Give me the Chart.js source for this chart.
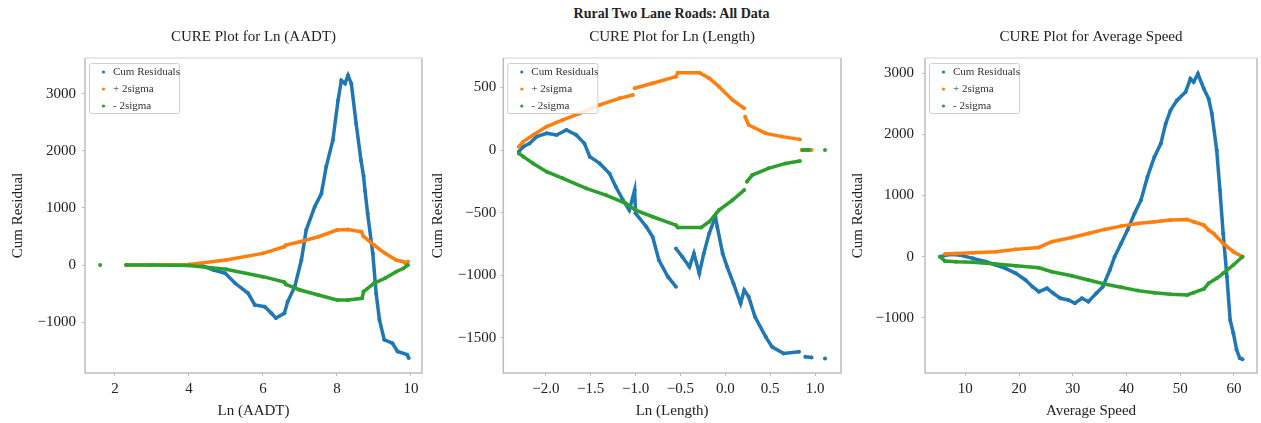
<!DOCTYPE html>
<html>
<head>
<meta charset="utf-8">
<script src="https://cdn.jsdelivr.net/npm/chart.js@4/dist/chart.umd.min.js"></script>
<style>
  body { margin: 0; background: #fff; width: 1261px; height: 423px; position: relative; overflow: hidden; }
  #suptitle { position: absolute; left: 0; width: 1343px; top: 6px; text-align: center;
    font: bold 14px "Liberation Serif", serif; color: #222; }
  .box { position: absolute; top: 0; height: 423px; }
</style>
</head>
<body>
<div id="suptitle">Rural Two Lane Roads: All Data</div>
<div class="box" style="left:0;width:426px"><canvas id="c1"></canvas></div>
<div class="box" style="left:426px;width:419px"><canvas id="c2"></canvas></div>
<div class="box" style="left:845px;width:416px"><canvas id="c3"></canvas></div>
<script>
// Ln (AADT)
const aadtResX = [4.3, 4.67, 4.98, 5.25, 5.6, 5.78, 6.05, 6.23, 6.35, 6.58, 6.67, 6.86, 7.04, 7.17, 7.4, 7.58, 7.71, 7.89, 8.03, 8.12, 8.22, 8.3, 8.39, 8.52, 8.65, 8.72, 8.76, 8.83, 8.97, 9.06, 9.15, 9.28, 9.5, 9.64, 9.9, 9.94];
const aadtResY = [0, -87, -145, -320, -495, -700, -730, -845, -930, -845, -640, -380, 87, 612, 1020, 1250, 1720, 2185, 2880, 3230, 3180, 3320, 3175, 2475, 1835, 1560, 1300, 900, 200, -495, -960, -1310, -1370, -1515, -1570, -1630];
const aadtUpX = [2.3, 3.0, 4.0, 5.0, 6.0, 6.58, 6.62, 7.0, 7.5, 8.0, 8.3, 8.66, 8.72, 9.0, 9.3, 9.6, 9.8, null, 9.85, 9.92];
const aadtUpY = [0, 0, 10, 87, 204, 320, 350, 408, 495, 612, 623, 583, 500, 350, 204, 87, 58, null, 30, 60];
const aadtLoX = [1.6, null, 2.3, 3.0, 4.0, 5.0, 6.0, 6.58, 6.62, 7.0, 7.5, 8.0, 8.3, 8.68, 8.72, 9.0, 9.3, 9.6, 9.8, 9.92];
const aadtLoY = [0, null, 0, 0, -10, -76, -204, -300, -340, -437, -524, -612, -612, -583, -466, -320, -233, -117, -58, 0];
const aadtXTicks = [2, 4, 6, 8, 10];
const aadtYTicks = [-1000, 0, 1000, 2000, 3000];

// Ln (Length)
const lenResX = [-2.3, -2.25, -2.18, -2.1, -1.99, -1.88, -1.77, -1.66, -1.57, -1.51, -1.4, -1.29, -1.22, -1.14, -1.07, -1.01, -1.0, -0.88, -0.81, -0.74, -0.64, -0.55, null, -0.55, -0.48, -0.4, -0.35, -0.29, -0.24, -0.18, -0.11, -0.09, -0.03, 0.02, 0.09, 0.17, 0.21, 0.26, 0.33, 0.45, 0.52, 0.65, 0.82, null, 0.89, 0.96, null, 1.11];
const lenResY = [-13, 27, 53, 107, 133, 120, 160, 120, 53, -53, -107, -187, -293, -400, -480, -320, -506, -613, -693, -880, -1012, -1092, null, -786, -853, -933, -826, -986, -826, -666, -533, -613, -826, -933, -1066, -1226, -1119, -1172, -1332, -1492, -1572, -1625, -1612, null, -1652, -1657, null, -1665];
const lenUpX = [-2.3, -2.25, -2.14, -1.99, -1.81, -1.62, -1.4, -1.18, -1.03, null, -1.01, -0.81, -0.55, -0.53, -0.29, -0.18, -0.07, 0.08, 0.21, null, 0.22, 0.26, 0.45, 0.63, 0.83, null, 0.85, 0.9, 0.96];
const lenUpY = [27, 67, 120, 187, 240, 293, 360, 413, 440, null, 493, 533, 586, 618, 618, 573, 506, 400, 333, null, 266, 200, 133, 107, 85, null, 0, 0, 0];
const lenLoX = [-2.3, -2.25, -2.14, -1.99, -1.81, -1.55, -1.33, -1.11, -1.0, -0.81, -0.55, -0.53, -0.27, -0.18, -0.07, 0.08, 0.21, null, 0.24, 0.3, 0.48, 0.67, 0.83, null, 0.86, 0.93, null, 1.11];
const lenLoY = [-27, -53, -107, -173, -226, -306, -360, -426, -480, -533, -600, -618, -618, -573, -480, -400, -320, null, -253, -200, -146, -107, -88, null, 0, 0, null, 0];
const lenXTicks = [-2.0, -1.5, -1.0, -0.5, 0.0, 0.5, 1.0];
const lenYTicks = [-1500, -1000, -500, 0, 500];

// Average Speed
const spdResX = [5.3, 7.1, 9.0, 11.4, 13.9, 15.7, 17.5, 19.4, 21.2, 22.5, 23.7, 25.2, 26.4, 27.7, 29.2, 30.4, 31.7, 32.9, 34.4, 35.6, 36.9, 37.8, 39.0, 40.2, 41.5, 42.7, 43.9, 45.2, 46.4, 47.3, 48.2, 49.4, 51.0, 51.9, 52.5, 53.3, 54.4, 55.3, 55.9, 56.8, 57.4, 58.0, 58.7, 59.3, 59.9, 60.5, 61.1, 61.6];
const spdResY = [0, 38, 27, -27, -82, -136, -190, -272, -380, -489, -571, -516, -598, -679, -707, -761, -679, -734, -598, -489, -217, 0, 217, 435, 707, 924, 1304, 1630, 1848, 2174, 2391, 2554, 2690, 2907, 2853, 2989, 2745, 2581, 2337, 1739, 1087, 380, -326, -1033, -1250, -1522, -1658, -1674];
const spdUpX = [6.2, 8.3, 11.4, 15.7, 19.4, 23.7, 26.1, 29.8, 32.9, 35.9, 39.0, 42.1, 45.2, 48.2, 51.3, 52.5, 54.4, 55.3, 56.2, 58.0, 59.9, 61.6];
const spdUpY = [43, 54, 65, 82, 120, 152, 245, 315, 380, 446, 500, 543, 571, 598, 609, 571, 516, 435, 380, 217, 82, 0];
const spdLoX = [5.3, 6.2, 8.3, 11.4, 15.7, 19.4, 23.7, 26.1, 29.8, 32.9, 35.9, 39.0, 42.1, 45.2, 48.2, 51.3, 52.5, 54.4, 55.3, 56.8, 58.0, 59.9, 61.6];
const spdLoY = [0, -70, -82, -92, -120, -147, -180, -245, -310, -380, -446, -500, -554, -587, -614, -625, -587, -527, -435, -353, -272, -136, 0];
const spdXTicks = [10, 20, 30, 40, 50, 60];
const spdYTicks = [-1000, 0, 1000, 2000, 3000];

const seriesNames = ['Cum Residuals', '+ 2sigma', '- 2sigma'];
const seriesColors = ['#1f77b4', '#ff7f0e', '#2ca02c'];

const serif = '"Liberation Serif", "DejaVu Serif", serif';
const ink = '#222';

function pts(xs, ys) {
    return xs.map((x, i) => ({ x: x, y: x === null ? null : ys[i] }));
}

function minusFmt(v, digits) {
    const s = digits ? Math.abs(v).toFixed(digits) : String(Math.abs(v));
    return v < 0 ? '\u2212' + s : s;
}

// frame around the plot area (light top edge, grey on other sides)
const frame = {
    id: 'frame',
    afterDatasetsDraw(chart) {
        const a = chart.chartArea, ctx = chart.ctx;
        ctx.save();
        ctx.lineWidth = 1.5;
        ctx.strokeStyle = '#e2e2e2';
        ctx.beginPath(); ctx.moveTo(a.left, a.top); ctx.lineTo(a.right, a.top); ctx.stroke();
        ctx.strokeStyle = '#bdbdbd';
        ctx.beginPath();
        ctx.moveTo(a.left, a.top); ctx.lineTo(a.left, a.bottom);
        ctx.lineTo(a.right, a.bottom); ctx.lineTo(a.right, a.top);
        ctx.stroke();
        ctx.restore();
    }
};

// matplotlib style legend in the upper left corner
const innerLegend = {
    id: 'innerLegend',
    afterDraw(chart) {
        const a = chart.chartArea, ctx = chart.ctx;
        const bx = a.left + 4.5, by = a.top + 5.5, bw = 90, bh = 50;
        ctx.save();
        ctx.fillStyle = 'rgba(255,255,255,0.85)';
        ctx.strokeStyle = '#cfcfcf';
        ctx.lineWidth = 1;
        ctx.beginPath();
        ctx.roundRect(bx, by, bw, bh, 2);
        ctx.fill();
        ctx.stroke();
        ctx.font = '11px ' + serif;
        ctx.textBaseline = 'middle';
        chart.data.datasets.forEach((ds, i) => {
            const y = by + 8.5 + i * 17;
            ctx.fillStyle = ds.borderColor;
            ctx.beginPath(); ctx.arc(bx + 14, y, 1.6, 0, Math.PI * 2); ctx.fill();
            ctx.fillStyle = '#333';
            ctx.fillText(ds.label, bx + 23.5, y);
        });
        ctx.restore();
    }
};

function setTicks(values) {
    return scale => { scale.ticks = values.map(v => ({ value: v })); };
}

function makeChart(id, cfg) {
    const sets = [cfg.res, cfg.up, cfg.lo].map((d, i) => ({
        label: seriesNames[i],
        data: d,
        borderColor: seriesColors[i],
        backgroundColor: seriesColors[i],
        showLine: true,
        spanGaps: false,
        borderWidth: 3.5,
        pointRadius: 2,
        pointBorderWidth: 0,
        order: 2 - i
    }));
    return new Chart(document.getElementById(id), {
        type: 'scatter',
        data: { datasets: sets },
        options: {
            responsive: true,
            maintainAspectRatio: false,
            animation: false,
            layout: { padding: { left: 0, right: cfg.padRight, top: 0, bottom: 0 } },
            plugins: {
                legend: { display: false },
                tooltip: { enabled: false },
                title: {
                    display: true,
                    text: cfg.title,
                    fullSize: false,
                    color: ink,
                    font: { family: serif, size: 15, weight: 'normal' },
                    padding: { top: 28, bottom: 12 }
                }
            },
            scales: {
                x: {
                    min: cfg.xMin, max: cfg.xMax,
                    afterBuildTicks: setTicks(cfg.xTicks),
                    afterFit: s => { s.height = 50; },
                    border: { display: false },
                    grid: { drawOnChartArea: false, drawTicks: true, tickLength: 3, color: '#bdbdbd' },
                    ticks: {
                        padding: 4, color: ink, autoSkip: false,
                        font: { family: serif, size: 15 }, maxRotation: 0,
                        callback: v => minusFmt(v, cfg.xDigits)
                    },
                    title: {
                        display: true, text: cfg.xTitle, color: ink,
                        font: { family: serif, size: 15 }, padding: { top: 0, bottom: 3 }
                    }
                },
                y: {
                    min: cfg.yMin, max: cfg.yMax,
                    afterBuildTicks: setTicks(cfg.yTicks),
                    afterFit: s => { s.width = cfg.yWidth; },
                    border: { display: false },
                    grid: { drawOnChartArea: false, drawTicks: true, tickLength: 3, color: '#bdbdbd' },
                    ticks: {
                        padding: cfg.yPad, color: ink, autoSkip: false,
                        font: { family: serif, size: 15 },
                        callback: v => minusFmt(v, 0)
                    },
                    title: {
                        display: true, text: 'Cum Residual', color: ink,
                        font: { family: serif, size: 15 }, padding: { top: cfg.yTitlePad, bottom: 0 }
                    }
                }
            }
        },
        plugins: [frame, innerLegend]
    });
}

makeChart('c1', {
    title: 'CURE Plot for Ln (AADT)', xTitle: 'Ln (AADT)',
    res: pts(aadtResX, aadtResY), up: pts(aadtUpX, aadtUpY), lo: pts(aadtLoX, aadtLoY),
    xMin: 1.19, xMax: 10.3, xTicks: aadtXTicks, xDigits: 0,
    yMin: -1891, yMax: 3625, yTicks: aadtYTicks,
    yWidth: 85, yPad: 6, yTitlePad: 9, padRight: 2
});
makeChart('c2', {
    title: 'CURE Plot for Ln (Length)', xTitle: 'Ln (Length)',
    res: pts(lenResX, lenResY), up: pts(lenUpX, lenUpY), lo: pts(lenLoX, lenLoY),
    xMin: -2.473, xMax: 1.288, xTicks: lenXTicks, xDigits: 1,
    yMin: -1781, yMax: 735, yTicks: lenYTicks,
    yWidth: 77.3, yPad: 4, yTitlePad: 3.3, padRight: 2.3
});
makeChart('c3', {
    title: 'CURE Plot for Average Speed', xTitle: 'Average Speed',
    res: pts(spdResX, spdResY), up: pts(spdUpX, spdUpY), lo: pts(spdLoX, spdLoY),
    xMin: 2.5, xMax: 64.3, xTicks: spdXTicks, xDigits: 0,
    yMin: -1900, yMax: 3247, yTicks: spdYTicks,
    yWidth: 80, yPad: 8, yTitlePad: 4.3, padRight: 0.5
});
</script>
</body>
</html>
